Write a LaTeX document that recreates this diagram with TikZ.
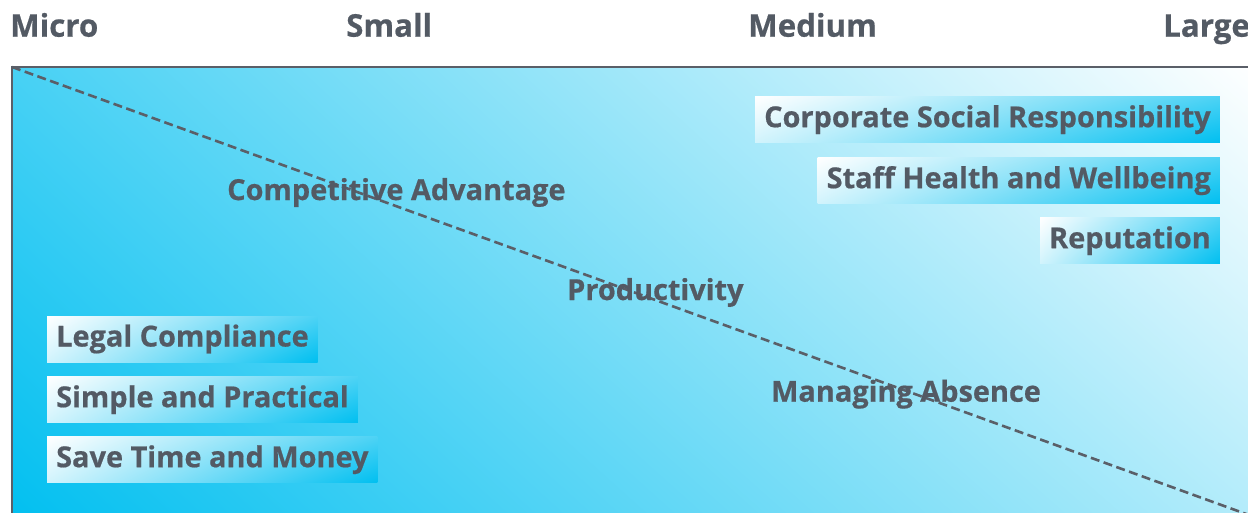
\documentclass[tikz,border=0pt]{standalone}
\usepackage{fontspec}
\usetikzlibrary{shadings}
\setmainfont{Open Sans}[BoldFeatures={FakeBold=0.6}]
\definecolor{txt}{HTML}{535A64}
\definecolor{frame}{HTML}{5A5F68}
\definecolor{cy}{HTML}{00BFF0}
\begin{document}
\begin{tikzpicture}[x=1pt,y=-1pt,
  lbl/.style={font=\fontsize{28.9}{32}\selectfont\bfseries, text=txt, inner sep=0pt},
  hdr/.style={lbl, font=\fontsize{31.3}{34}\selectfont\bfseries},
  tagbox/.style={lbl, inner xsep=9pt, inner ysep=10pt, text height=20.5pt, text depth=5.5pt,
    upper left=white, lower left=cy!18, upper right=cy!70, lower right=cy},
]
\useasboundingbox (0,0) rectangle (1248,512);
\shade[upper left=cy!72, upper right=white, lower left=cy, lower right=cy!30]
  (12,67) rectangle (1260,530);
\draw[frame, line width=2.5pt] (12,530) -- (12,67) -- (1260,67);
\coordinate (d0) at (12,67);
\coordinate (d1) at (1260,519);
\draw[frame, line width=2.6pt, dash pattern=on 9pt off 4.5pt] (d0) -- (d1);

\node[hdr, anchor=base west] (micro) at (10,36.7) {Micro};
\node[hdr, anchor=base west] (small) at (346,36.7) {Small};
\node[hdr, anchor=base west] (medium) at (748,36.7) {Medium};
\node[hdr, anchor=base west] (large) at (1163,36.7) {Large};

\node[lbl, anchor=base west] (comp) at (227,200) {Competitive Advantage};
\node[lbl, anchor=base west] (prod) at (567,300) {Productivity};
\node[lbl, anchor=base west] (abs) at (771,401.7) {Managing Absence};

\node[tagbox, anchor=base east] (csr) at (1220,127.2) {Corporate Social Responsibility};
\node[tagbox, anchor=base east] (staff) at (1220,188.2) {Staff Health and Wellbeing};
\node[tagbox, anchor=base east] (rep) at (1220,248.2) {Reputation};

\node[tagbox, anchor=base west] (legal) at (47,346.5) {Legal Compliance};
\node[tagbox, anchor=base west] (simple) at (47,407.2) {Simple and Practical};
\node[tagbox, anchor=base west] (save) at (47,467.2) {Save Time and Money};
\end{tikzpicture}
\end{document}
